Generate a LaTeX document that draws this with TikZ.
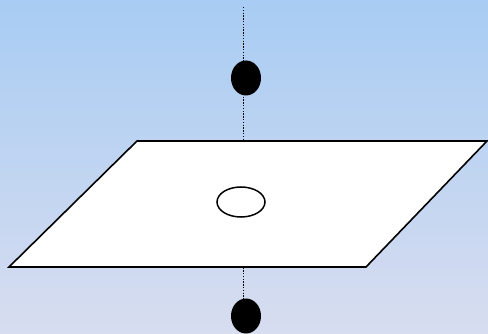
\documentclass[tikz,border=0pt]{standalone}
\usetikzlibrary{calc, shapes.geometric}
\definecolor{skytop}{HTML}{A8CCF3}
\definecolor{skybottom}{HTML}{D8DDF0}
\definecolor{darkline}{HTML}{000000}
\tikzset{
  plane/.style={draw=darkline, fill=white, line width=1.6pt, line join=miter},
  ball/.style={ellipse, fill=darkline, minimum width=30pt, minimum height=35pt, inner sep=0pt},
  hole/.style={ellipse, draw=darkline, fill=white, line width=1.5pt,
               minimum width=48pt, minimum height=30pt, inner sep=0pt},
  axis/.style={draw=darkline, line width=1.4pt, dash pattern=on 1.4pt off 1.4pt},
}

\begin{document}
\begin{tikzpicture}[x=1pt, y=-1pt]

% Sky background, fixes the page size
\shade[top color=skytop, bottom color=skybottom] (0,0) rectangle (488,334);
\useasboundingbox (0,0) rectangle (488,334);
\clip (0,0) rectangle (488,334);

% Axis ends, drawn first so the plane and the balls cover it
\coordinate (axtop) at (243.5,7);
\coordinate (axbot) at (243.5,300);
\draw[axis] (axtop) -- (axbot);

% Plane seen in perspective
\coordinate (pTL) at (137,141);
\coordinate (pTR) at (487,141);
\coordinate (pBR) at (366,267);
\coordinate (pBL) at (9,267);
\draw[plane] (pTL) -- (pTR) -- (pBR) -- (pBL) -- cycle;

% Hole in the plane, balls above and below
\node[hole] (hole)    at (241,202) {};
\node[ball] (ballup)  at (246,78)  {};
\node[ball] (balldn)  at (246,316) {};

\end{tikzpicture}
\end{document}
